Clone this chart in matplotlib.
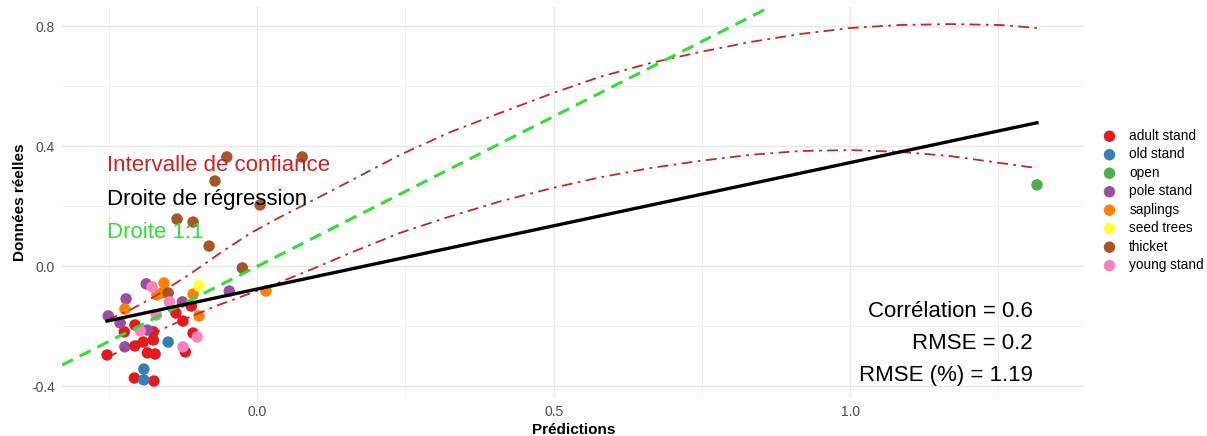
import matplotlib
matplotlib.use("Agg")
import matplotlib.pyplot as plt
from matplotlib.ticker import MultipleLocator
import numpy as np

plt.rcParams['font.family'] = ['Liberation Sans', 'DejaVu Sans']

# ---------------- data ----------------
categories = ["adult stand", "old stand", "open", "pole stand", "saplings",
              "seed trees", "thicket", "young stand"]
colors = ["#E41A1C", "#377EB8", "#4DAF4A", "#984EA3", "#FF7F00",
          "#FFFF33", "#A65628", "#F781BF"]

adult_x = [-0.206, -0.224, -0.175, -0.175, -0.192, -0.206, -0.253, -0.185,
           -0.172, -0.207, -0.174, -0.137, -0.111, -0.125, -0.108, -0.121]
adult_y = [-0.195, -0.218, -0.218, -0.245, -0.252, -0.265, -0.295, -0.288,
           -0.292, -0.372, -0.382, -0.155, -0.132, -0.182, -0.222, -0.285]
old_x = [-0.150, -0.191, -0.191]
old_y = [-0.252, -0.342, -0.378]
open_x = [1.315]
open_y = [0.272]
pole_x = [-0.187, -0.221, -0.251, -0.231, -0.185, -0.223, -0.126, -0.047]
pole_y = [-0.058, -0.108, -0.165, -0.188, -0.212, -0.268, -0.118, -0.082]
saplings_x = [-0.157, -0.169, -0.160, -0.108, -0.223, -0.098, 0.015]
saplings_y = [-0.055, -0.095, -0.088, -0.092, -0.142, -0.165, -0.082]
seed_x = [-0.098]
seed_y = [-0.065]
thicket_x = [-0.051, 0.076, -0.071, 0.005, -0.135, -0.108, -0.081, -0.025, -0.150]
thicket_y = [0.365, 0.365, 0.285, 0.205, 0.158, 0.148, 0.068, -0.005, -0.088]
young_x = [-0.177, -0.148, -0.170, -0.197, -0.125, -0.101]
young_y = [-0.068, -0.118, -0.162, -0.215, -0.268, -0.235]

series_x = [adult_x, old_x, open_x, pole_x, saplings_x, seed_x, thicket_x, young_x]
series_y = [adult_y, old_y, open_y, pole_y, saplings_y, seed_y, thicket_y, young_y]

# regression line
reg_slope = 0.4216
reg_intercept = -0.0753
reg_xmin = -0.253
reg_xmax = 1.315

# confidence interval curves
ci_x = [-0.253, -0.214, -0.164, -0.113, -0.062, -0.012, 0.039, 0.089, 0.157,
        0.241, 0.326, 0.410, 0.499, 0.578, 0.663, 0.747, 0.831, 0.916, 1.000,
        1.084, 1.169, 1.253, 1.315]
ci_upper = [-0.178, -0.145, -0.090, -0.025, 0.045, 0.110, 0.165, 0.215, 0.285,
            0.372, 0.448, 0.512, 0.578, 0.632, 0.678, 0.715, 0.748, 0.775,
            0.795, 0.805, 0.808, 0.805, 0.795]
ci_lower_x = [-0.253, -0.192, -0.125, -0.067, -0.012, 0.039, 0.089, 0.157,
              0.241, 0.326, 0.410, 0.499, 0.578, 0.663, 0.747, 0.831, 0.916,
              1.000, 1.084, 1.169, 1.253, 1.315]
ci_lower = [-0.305, -0.238, -0.178, -0.130, -0.090, -0.052, -0.012, 0.045,
            0.112, 0.167, 0.217, 0.262, 0.297, 0.328, 0.352, 0.372, 0.385,
            0.388, 0.382, 0.368, 0.345, 0.328]

x_ticks = [0.0, 0.5, 1.0]
x_tick_labels = ["0.0", "0.5", "1.0"]
y_ticks = [-0.4, 0.0, 0.4, 0.8]
y_tick_labels = ["-0.4", "0.0", "0.4", "0.8"]

stats_lines = ["Corrélation = 0.6", "RMSE = 0.2", "RMSE (%) = 1.19"]
legend_texts = [("Intervalle de confiance", "#CC2222"),
                ("Droite de régression", "black"),
                ("Droite 1:1", "#33DD33")]

# ---------------- figure ----------------
W, H, DPI = 1207, 436, 100
fig = plt.figure(figsize=(W / DPI, H / DPI), dpi=DPI)
ax = fig.add_axes([62 / W, 1 - 398 / H, (1085 - 62) / W, (398 - 7) / H])

ax.set_xlim(-0.329, 1.396)
ax.set_ylim(-0.4385, 0.865)

for s in ax.spines.values():
    s.set_visible(False)
ax.set_xticks(x_ticks)
ax.set_xticklabels(x_tick_labels)
ax.set_yticks(y_ticks)
ax.set_yticklabels(y_tick_labels)
ax.xaxis.set_minor_locator(MultipleLocator(0.25))
ax.yaxis.set_minor_locator(MultipleLocator(0.2))
ax.tick_params(which='both', length=0)
ax.tick_params(axis='both', labelsize=10, labelcolor='#4d4d4d', pad=5)
ax.grid(which='major', color='#e8e8e8', lw=1.0)
ax.grid(which='minor', color='#f0f0f0', lw=0.6)
ax.set_axisbelow(True)

# points
for cat, col, xs, ys in zip(categories, colors, series_x, series_y):
    ax.scatter(xs, ys, s=68, color=col, label=cat, edgecolors='none', zorder=3)

# confidence interval curves
ax.plot(ci_x, ci_upper, color='#CC2222', lw=1.3, ls=(0, (6, 3, 1.5, 3)), zorder=4)
ax.plot(ci_lower_x, ci_lower, color='#CC2222', lw=1.3, ls=(0, (6, 3, 1.5, 3)), zorder=4)

# 1:1 line
ax.axline((0, 0), slope=1, color='#33DD33', lw=2.2, ls=(0, (4, 2.5)), zorder=4)

# regression line
rx = np.array([reg_xmin, reg_xmax])
ax.plot(rx, reg_intercept + reg_slope * rx, color='black', lw=2.4, zorder=5)

# annotations
for i, (t, c) in enumerate(legend_texts):
    ax.text(-0.253, 0.335 - i * 0.111, t, color=c, fontsize=16,
            ha='left', va='center', zorder=6)
for i, t in enumerate(stats_lines):
    ax.text(1.308, -0.150 - i * 0.106, t, color='black', fontsize=16,
            ha='right', va='center', zorder=6)

ax.set_xlabel("Prédictions", fontsize=11, fontweight='bold', labelpad=3)
ax.set_ylabel("Données réelles", fontsize=11, fontweight='bold', labelpad=3)

leg = ax.legend(loc='center left', bbox_to_anchor=(1.0, 0.505), frameon=False,
                fontsize=9.8, handletextpad=0.45, labelspacing=0.33,
                markerscale=1.0, borderaxespad=0.4)

fig.savefig("out.png", dpi=DPI)
